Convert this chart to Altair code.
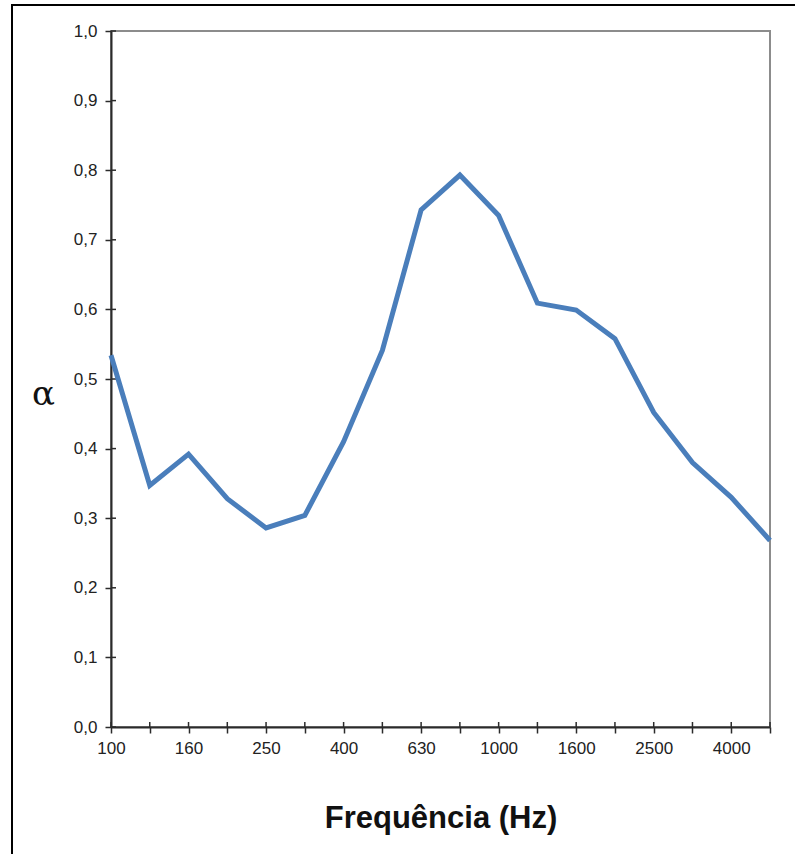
import altair as alt
import pandas as pd

freqs = ["100", "125", "160", "200", "250", "315", "400", "500", "630", "800",
         "1000", "1250", "1600", "2000", "2500", "3150", "4000", "5000"]
alpha = [0.534, 0.347, 0.392, 0.328, 0.286, 0.304, 0.41, 0.541, 0.743, 0.793,
         0.735, 0.609, 0.599, 0.558, 0.452, 0.380, 0.330, 0.268]
shown_labels = ["100", "160", "250", "400", "630", "1000", "1600", "2500", "4000"]
y_ticks = [0.0, 0.1, 0.2, 0.3, 0.4, 0.5, 0.6, 0.7, 0.8, 0.9, 1.0]

df = pd.DataFrame({"f": freqs, "a": alpha})
ticks_df = pd.DataFrame({"a": y_ticks})

W, H = 659, 696
AXC = "#2b2b2b"

label_list = "[" + ",".join("'" + s + "'" for s in shown_labels) + "]"

x_axis = alt.Axis(title="Frequência (Hz)", labelAngle=0,
                  labelExpr=f"indexof({label_list}, datum.label) >= 0 ? datum.label : ''",
                  labelFont="Liberation Sans", labelFontSize=17, labelColor="#222",
                  labelPadding=7, tickSize=6, tickColor=AXC, tickWidth=1.5,
                  domainColor=AXC, domainWidth=2,
                  titleFont="Liberation Sans", titleFontSize=31, titleFontWeight="bold",
                  titleColor="#111", titleY=100, titleBaseline="alphabetic",
                  grid=False)
y_axis = alt.Axis(title="α", values=y_ticks,
                  labelExpr="replace(format(datum.value, '.1f'), '.', ',')",
                  labelFont="Liberation Sans", labelFontSize=17, labelColor="#222",
                  labelPadding=8, tickSize=6, tickColor=AXC, tickWidth=1.5,
                  domainColor=AXC, domainWidth=2,
                  titleFont="DejaVu Serif", titleFontSize=34, titleFontWeight="normal",
                  titleColor="#111", titleAngle=0, titleX=-68, titleY=363,
                  titleAlign="center", titleBaseline="middle",
                  grid=False)

x_scale = alt.Scale(type="point", padding=0)
y_scale = alt.Scale(domain=[0, 1], nice=False, zero=True)

x_enc = alt.X("f:N", sort=freqs, scale=x_scale, axis=x_axis)
y_enc = alt.Y("a:Q", scale=y_scale, axis=y_axis)

line = alt.Chart(df).mark_line(color="#4a7ebb", strokeWidth=5).encode(x=x_enc, y=y_enc)

x_inner = alt.Chart(df).mark_rule(color=AXC, strokeWidth=1.5).encode(
    x=x_enc, y=alt.value(H - 5), y2=alt.value(H))

y_inner = alt.Chart(ticks_df).mark_rule(color=AXC, strokeWidth=1.5).encode(
    y=y_enc, x=alt.value(0), x2=alt.value(5))

dummy = alt.Data(values=[{"k": 1}])
border_left = alt.Chart(dummy).mark_rule(color="#000", strokeWidth=2).encode(
    x=alt.value(-99), y=alt.value(-26), y2=alt.value(854 - 31))
border_top = alt.Chart(dummy).mark_rule(color="#000", strokeWidth=2).encode(
    y=alt.value(-26), x=alt.value(-100), x2=alt.value(795 - 111))

chart = alt.layer(x_inner, y_inner, line, border_left, border_top).properties(
    width=W, height=H,
    autosize=alt.AutoSizeParams(type="none"),
    padding={"left": 111, "top": 31, "right": 795 - 111 - W, "bottom": 854 - 31 - H},
    background="white",
).configure_view(stroke="#8c8c8c", strokeWidth=2)

chart.save("out.html", embed_options={"renderer": "svg", "actions": False})
